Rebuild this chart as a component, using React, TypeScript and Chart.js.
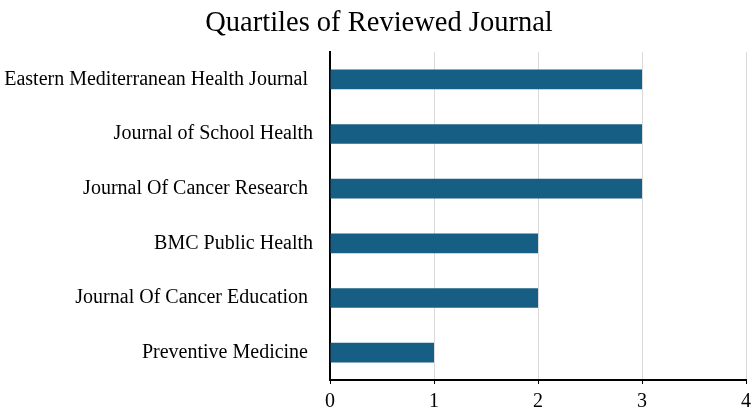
import React, { useEffect, useRef } from "react";
import { Chart, registerables } from "chart.js";

Chart.register(...registerables);

const categories = [
  "Eastern Mediterranean Health Journal ",
  "Journal of School Health",
  "Journal Of Cancer Research ",
  "BMC Public Health",
  "Journal Of Cancer Education ",
  "Preventive Medicine ",
];
const quartiles = [3, 3, 3, 2, 2, 1];
const xTicks = [0, 1, 2, 3, 4];
const titleText = "Quartiles of Reviewed Journal";

const FONT = "'Liberation Serif', 'Times New Roman', serif";

const titleShift = {
  id: "titleShift",
  beforeDraw(chart: any) {
    if (chart.titleBlock) {
      chart.titleBlock.left = 12;
    }
  },
};

export default function App() {
  const ref = useRef<HTMLCanvasElement>(null);
  useEffect(() => {
    document.body.style.margin = "0";
    const chart = new Chart(ref.current!, {
      type: "bar",
      data: {
        labels: categories,
        datasets: [
          {
            data: quartiles,
            backgroundColor: "#165E83",
            borderWidth: 0,
            categoryPercentage: 1,
            barPercentage: 0.36,
          },
        ],
      },
      plugins: [titleShift],
      options: {
        indexAxis: "y",
        animation: false,
        responsive: false,
        maintainAspectRatio: false,
        layout: { padding: { left: 0, right: 5, top: 0, bottom: 0 } },
        plugins: {
          legend: { display: false },
          tooltip: { enabled: false },
          title: {
            display: true,
            text: titleText,
            color: "#000",
            font: { family: FONT, size: 28.5, weight: "normal", lineHeight: 1.2 },
            padding: { top: 6, bottom: 11.8 },
          },
        },
        scales: {
          x: {
            min: 0,
            max: 4,
            afterBuildTicks: (s: any) => {
              s.ticks = xTicks.map((v) => ({ value: v }));
            },
            afterFit: (s: any) => {
              s.height = 28;
              s.paddingRight = 0;
              s.paddingLeft = 0;
            },
            grid: {
              color: "#d9d9d9",
              lineWidth: 1,
              drawTicks: true,
              tickColor: "#000",
              tickLength: 4,
            },
            border: { color: "#000", width: 2 },
            ticks: {
              color: "#000",
              font: { family: FONT, size: 20 },
              padding: 6,
            },
          },
          y: {
            afterFit: (s: any) => {
              s.width = 330;
            },
            grid: { display: false, drawTicks: false },
            border: { color: "#000", width: 2 },
            ticks: {
              color: "#000",
              font: { family: FONT, size: 20 },
              padding: 17,
            },
          },
        },
      },
    } as any);
    return () => chart.destroy();
  }, []);
  return (
    <div style={{ width: 751, height: 409 }}>
      <canvas ref={ref} width={751} height={409} />
    </div>
  );
}
